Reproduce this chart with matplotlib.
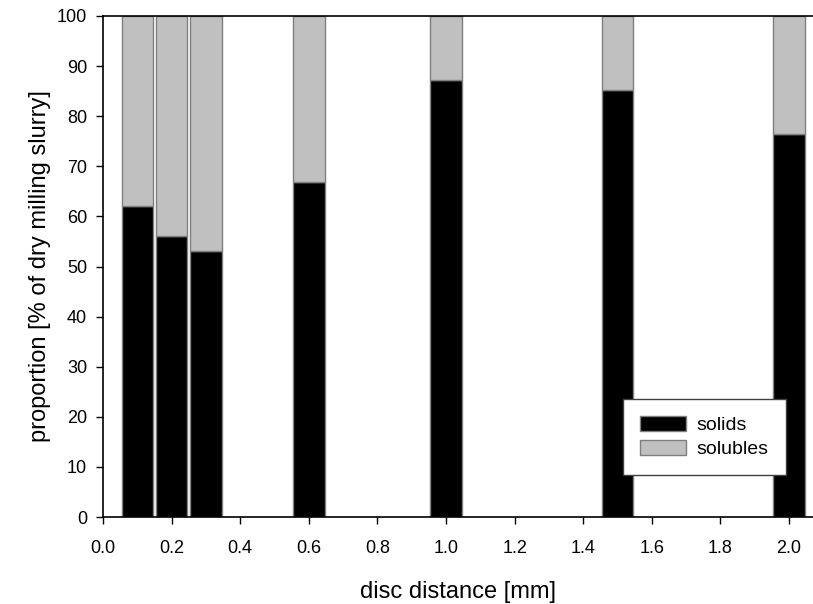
import matplotlib
matplotlib.use("Agg")
import matplotlib.pyplot as plt

plt.rcParams['font.family'] = ['Liberation Sans', 'DejaVu Sans']

distances = [0.1, 0.2, 0.3, 0.6, 1.0, 1.5, 2.0]
solids = [62.1, 56.0, 53.0, 66.8, 87.2, 85.3, 76.5]
solubles = [100 - s for s in solids]
x_ticks = [0.0, 0.2, 0.4, 0.6, 0.8, 1.0, 1.2, 1.4, 1.6, 1.8, 2.0]
y_ticks = list(range(0, 101, 10))

fig = plt.figure(figsize=(8.13, 6.04), dpi=100)
ax = fig.add_axes([103/813, 1 - 517/604, 1 - 103/813, (517 - 16)/604])

ax.bar(distances, solids, width=0.092, color='black', edgecolor='#7f7f7f', linewidth=1.0, label='solids')
ax.bar(distances, solubles, bottom=solids, width=0.092, color='#c0c0c0', edgecolor='#7f7f7f', linewidth=1.0, label='solubles')

ax.set_xlim(0, 2.07)
ax.set_ylim(0, 100)
ax.set_xticks(x_ticks)
ax.set_xticklabels([f"{v:.1f}" for v in x_ticks])
ax.set_yticks(y_ticks)
ax.tick_params(direction='out', length=5, width=1, labelsize=13, colors='black')
ax.tick_params(axis='x', pad=11.5)
ax.tick_params(axis='y', pad=6.5)
ax.spines['right'].set_visible(False)
for s in ['left', 'bottom', 'top']:
    ax.spines[s].set_linewidth(1.2)

ax.set_xlabel('disc distance [mm]', fontsize=17, labelpad=17)
ax.set_ylabel('proportion [% of dry milling slurry]', fontsize=17, labelpad=4)

leg = ax.legend(loc='lower left', bbox_to_anchor=((623-103)/710, (517-475)/501, (786-623)/710, (475-400)/501),
                mode='expand', fontsize=14, fancybox=False, framealpha=1, edgecolor='#404040',
                handlelength=2.37, handleheight=0.82, borderpad=0.85, labelspacing=0.32, handletextpad=0.57,
                borderaxespad=0)
leg.get_frame().set_linewidth(1.0)

fig.savefig('out.png', dpi=100)
